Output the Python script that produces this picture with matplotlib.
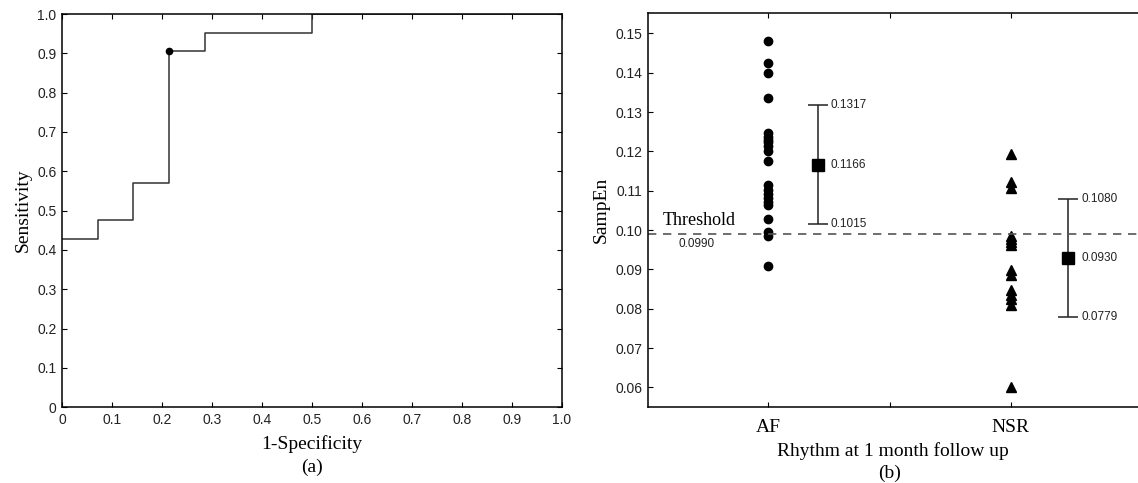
import numpy as np
import matplotlib
matplotlib.use("Agg")
import matplotlib.pyplot as plt

# ROC curve (steps) - 14 NSR, 21 AF patients
fpr = [0, 1/14, 1/14, 2/14, 2/14, 3/14, 3/14, 4/14, 4/14, 7/14, 7/14, 1.0]
tpr = [9/21, 9/21, 10/21, 10/21, 12/21, 12/21, 19/21, 19/21, 20/21, 20/21, 1.0, 1.0]
opt_point = (3/14, 19/21)

roc_ticks = [0, 0.1, 0.2, 0.3, 0.4, 0.5, 0.6, 0.7, 0.8, 0.9, 1.0]
roc_labels = ["0", "0.1", "0.2", "0.3", "0.4", "0.5", "0.6", "0.7", "0.8", "0.9", "1.0"]

# SampEn values per group
af_vals = [0.1481, 0.1424, 0.1400, 0.1335, 0.1246, 0.1236, 0.1230, 0.1225, 0.1213,
           0.1201, 0.1175, 0.1114, 0.1103, 0.1093, 0.1082, 0.1071, 0.1063, 0.1029,
           0.0995, 0.0985, 0.0908]
nsr_vals = [0.1193, 0.1123, 0.1106, 0.0985, 0.0978, 0.0970, 0.0962, 0.0898, 0.0885,
            0.0847, 0.0836, 0.0826, 0.0809, 0.0601]
groups = ["AF", "NSR"]
means = [0.1166, 0.0930]
upper = [0.1317, 0.1080]
lower = [0.1015, 0.0779]
threshold = 0.0990
samp_ticks = [0.06, 0.07, 0.08, 0.09, 0.10, 0.11, 0.12, 0.13, 0.14, 0.15]

sans = "Liberation Sans"
serif = "Liberation Serif"

fig = plt.figure(figsize=(11.38, 4.83), dpi=100)
W, H = 1138, 483

# ---- (a) ROC ----
ax1 = fig.add_axes([62 / W, 1 - 407.3 / H, 500 / W, 393.3 / H])
ax1.plot(fpr, tpr, color="#333333", lw=1.1)
ax1.plot(*opt_point, "o", color="black", ms=4.5)
ax1.set_xlim(0, 1)
ax1.set_ylim(0, 1)
ax1.set_xticks(roc_ticks)
ax1.set_xticklabels(roc_labels)
ax1.set_yticks(roc_ticks)
ax1.set_yticklabels(roc_labels)
ax1.tick_params(direction="in", length=3.5, width=0.8, top=True, right=True,
                labelsize=10, pad=4)
for lab in ax1.get_xticklabels() + ax1.get_yticklabels():
    lab.set_family(sans)
    lab.set_color("#222222")
ax1.set_xlabel("1-Specificity", family=serif, fontsize=14, labelpad=6)
ax1.set_ylabel("Sensitivity", family=serif, fontsize=14, labelpad=4)
for s in ax1.spines.values():
    s.set_linewidth(1.1)
fig.text(312 / W, 1 - 467 / H, "(a)", family=serif, fontsize=14,
         ha="center", va="center")

# ---- (b) SampEn by rhythm ----
ax2 = fig.add_axes([648.3 / W, 1 - 406.7 / H, (W - 648.3) / W, 393.7 / H])
ax2.plot(np.full(len(af_vals), 1.0), af_vals, "o", color="black", ms=6)
ax2.plot(np.full(len(nsr_vals), 2.0), nsr_vals, "^", color="black", ms=6.5)

bar_x = [1.204, 2.238]
for bx, m, up, lo in zip(bar_x, means, upper, lower):
    ax2.errorbar([bx], [m], yerr=[[m - lo], [up - m]], fmt="s", color="black",
                 ms=8, capsize=7.5, elinewidth=1.1, capthick=1.1, ecolor="#222222")
    for v in (up, m, lo):
        ax2.text(bx + 0.052, v, f"{v:.4f}", family=sans, fontsize=8.5,
                 ha="left", va="center", color="#222222")

ax2.axhline(threshold, color="#555555", lw=1.2, ls=(0, (5, 4)))
ax2.text(0.565, threshold + 0.0012, "Threshold", family=serif, fontsize=13,
         ha="left", va="bottom")
ax2.text(0.63, threshold - 0.0009, f"{threshold:.4f}", family=sans, fontsize=8.5,
         ha="left", va="top", color="#222222")

ax2.set_xlim(0.505, 2.525)
ax2.set_ylim(0.0551, 0.1552)
ax2.set_xticks([1, 1.5, 2])
ax2.set_xticklabels(["AF", "", "NSR"])
ax2.set_yticks(samp_ticks)
ax2.set_yticklabels([f"{t:.2f}" for t in samp_ticks])
ax2.tick_params(direction="in", length=3.5, width=0.8, top=True, right=False,
                labelsize=10, pad=4)
ax2.tick_params(axis="x", labelsize=14, pad=9)
for lab in ax2.get_yticklabels():
    lab.set_family(sans)
    lab.set_color("#222222")
for lab in ax2.get_xticklabels():
    lab.set_family(serif)
ax2.spines["right"].set_visible(False)
for s in ax2.spines.values():
    s.set_linewidth(1.1)
ax2.set_xlabel("Rhythm at 1 month follow up", family=serif, fontsize=14, labelpad=4)
ax2.set_ylabel("SampEn", family=serif, fontsize=14, labelpad=4)
fig.text(890 / W, 1 - 473.5 / H, "(b)", family=serif, fontsize=14,
         ha="center", va="center")

fig.savefig("out.png", dpi=100)
